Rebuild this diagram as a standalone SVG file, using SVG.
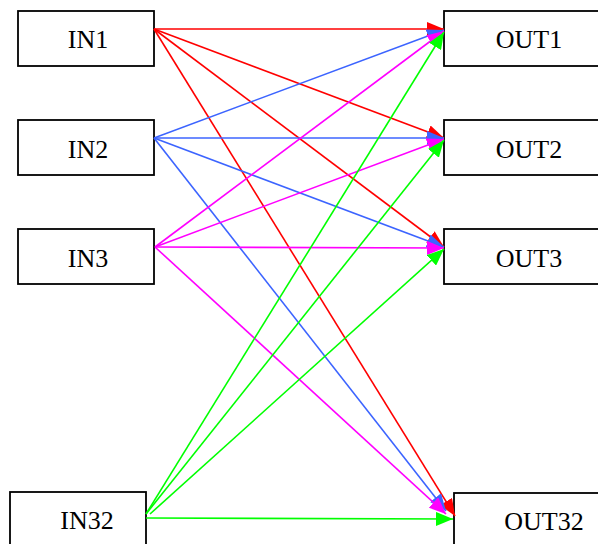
<svg xmlns="http://www.w3.org/2000/svg" width="598" height="544" viewBox="0 0 598 544">
<style>
.box{fill:#fff;stroke:#000;stroke-width:1.8}
.lbl{font-family:"Liberation Serif","Times New Roman",serif;font-size:26px;fill:#000;text-anchor:middle}
.c{fill:none;stroke-width:1.6}
.r{stroke:#ff0000}.b{stroke:#3c64ff}.m{stroke:#ff00ff}.g{stroke:#00ff00}
</style>
<defs>
<marker id="ar" markerUnits="userSpaceOnUse" markerWidth="17" markerHeight="14" refX="17" refY="7" orient="auto"><path d="M0,0 L17,7 L0,14 z" fill="#ff0000"/></marker>
<marker id="ab" markerUnits="userSpaceOnUse" markerWidth="17" markerHeight="14" refX="17" refY="7" orient="auto"><path d="M0,0 L17,7 L0,14 z" fill="#3c64ff"/></marker>
<marker id="am" markerUnits="userSpaceOnUse" markerWidth="17" markerHeight="14" refX="17" refY="7" orient="auto"><path d="M0,0 L17,7 L0,14 z" fill="#ff00ff"/></marker>
<marker id="ag" markerUnits="userSpaceOnUse" markerWidth="17" markerHeight="14" refX="17" refY="7" orient="auto"><path d="M0,0 L17,7 L0,14 z" fill="#00ff00"/></marker>
</defs>
<g id="IN1"><rect class="box" x="18" y="11" width="136" height="55"/><text class="lbl" x="88" y="48">IN1</text></g>
<g id="IN2"><rect class="box" x="18" y="120" width="136" height="55"/><text class="lbl" x="88" y="158">IN2</text></g>
<g id="IN3"><rect class="box" x="18" y="229" width="136" height="55"/><text class="lbl" x="88" y="267">IN3</text></g>
<g id="IN32"><rect class="box" x="10" y="492" width="136" height="55"/><text class="lbl" x="87" y="529">IN32</text></g>
<g id="OUT1"><rect class="box" x="444" y="11" width="170" height="55"/><text class="lbl" x="529" y="48">OUT1</text></g>
<g id="OUT2"><rect class="box" x="444" y="120" width="170" height="55"/><text class="lbl" x="529" y="158">OUT2</text></g>
<g id="OUT3"><rect class="box" x="444" y="229" width="170" height="55"/><text class="lbl" x="529" y="267">OUT3</text></g>
<g id="OUT32"><rect class="box" x="454" y="493" width="170" height="55"/><text class="lbl" x="544" y="530">OUT32</text></g>
<g id="connectors">
<line class="c r" x1="154" y1="29" x2="444" y2="29" marker-end="url(#ar)"/>
<line class="c r" x1="154" y1="29" x2="444" y2="138" marker-end="url(#ar)"/>
<line class="c r" x1="154" y1="29" x2="444" y2="247" marker-end="url(#ar)"/>
<line class="c r" x1="154" y1="29" x2="455" y2="516" marker-end="url(#ar)"/>
<line class="c b" x1="154" y1="138" x2="444" y2="30" marker-end="url(#ab)"/>
<line class="c b" x1="154" y1="138" x2="444" y2="138" marker-end="url(#ab)"/>
<line class="c b" x1="154" y1="138" x2="444" y2="247" marker-end="url(#ab)"/>
<line class="c b" x1="154" y1="138" x2="446" y2="511" marker-end="url(#ab)"/>
<line class="c m" x1="155" y1="247" x2="444" y2="31" marker-end="url(#am)"/>
<line class="c m" x1="155" y1="247" x2="444" y2="139" marker-end="url(#am)"/>
<line class="c m" x1="155" y1="247" x2="444" y2="248" marker-end="url(#am)"/>
<line class="c m" x1="155" y1="247" x2="446" y2="514" marker-end="url(#am)"/>
<line class="c g" x1="146" y1="514" x2="444" y2="32" marker-end="url(#ag)"/>
<line class="c g" x1="146" y1="514" x2="444" y2="140" marker-end="url(#ag)"/>
<line class="c g" x1="150" y1="514" x2="444" y2="249" marker-end="url(#ag)"/>
<line class="c g" x1="146" y1="518" x2="453" y2="519" marker-end="url(#ag)"/>
</g>
</svg>
